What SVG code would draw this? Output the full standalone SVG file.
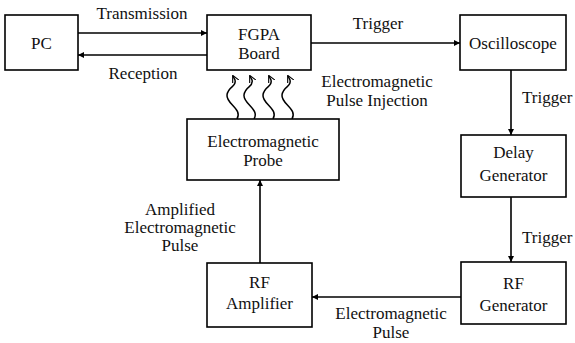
<svg xmlns="http://www.w3.org/2000/svg" width="575" height="343" viewBox="0 0 575 343" font-family="Liberation Serif, serif">
<style>
.box{fill:#fff;stroke:#000;stroke-width:1.6}
text{font-family:"Liberation Serif",serif;font-size:17px;fill:#111}
.t{text-anchor:middle}
.tl{text-anchor:start}
.c{stroke:#000;stroke-width:1.6;fill:none;marker-end:url(#ah)}
</style>
<defs>
<marker id="ah" viewBox="0 0 10 10" refX="10" refY="5" markerWidth="6" markerHeight="6" markerUnits="userSpaceOnUse" orient="auto">
<path d="M0,0 L10,5 L0,10 z" fill="#000"/>
</marker>
<marker id="ah2" viewBox="0 0 10 10" refX="9" refY="5" markerWidth="7" markerHeight="7" markerUnits="userSpaceOnUse" orient="auto">
<path d="M0,0 L10,5 L0,10" fill="none" stroke="#000" stroke-width="1.6"/>
</marker>
</defs>
<g id="connectors">
<line class="c" x1="78" y1="33" x2="207" y2="33"/>
<line class="c" x1="207" y1="55" x2="78" y2="55"/>
<line class="c" x1="311" y1="43" x2="460" y2="43"/>
<line class="c" x1="511" y1="70" x2="511" y2="135"/>
<line class="c" x1="511" y1="197" x2="511" y2="262"/>
<line class="c" x1="461" y1="297" x2="312" y2="297"/>
<line class="c" x1="260" y1="263" x2="260" y2="180"/>
<g id="waves" fill="none" stroke="#000" stroke-width="1.5" marker-end="url(#ah2)">
<path d="M237,119 C243,109 226,104 227,95 C228,86 237,87 235,80 L233,76"/>
<path d="M254,119 C260,109 243,104 244,95 C245,86 254,87 252,80 L250,76"/>
<path d="M273,119 C279,109 262,104 263,95 C264,86 273,87 271,80 L269,76"/>
<path d="M292,119 C298,109 281,104 282,95 C283,86 292,87 290,80 L288,76"/>
</g>
<text class="t" x="142" y="19">Transmission</text>
<text class="t" x="143" y="79">Reception</text>
<text class="t" x="378" y="29">Trigger</text>
<text class="t" x="377" y="87">Electromagnetic</text>
<text class="t" x="377" y="106">Pulse Injection</text>
<text class="tl" x="522" y="103">Trigger</text>
<text class="tl" x="522" y="243">Trigger</text>
<text class="t" x="180" y="215">Amplified</text>
<text class="t" x="180" y="233">Electromagnetic</text>
<text class="t" x="180" y="251">Pulse</text>
<text class="t" x="391" y="319">Electromagnetic</text>
<text class="t" x="391" y="338">Pulse</text>
</g>
<g id="pc">
<rect class="box" x="5" y="15" width="73" height="55"/>
<text class="t" x="41.5" y="49">PC</text>
</g>
<g id="fpga">
<rect class="box" x="207" y="15" width="104" height="55"/>
<text class="t" x="259" y="40">FGPA</text>
<text class="t" x="259" y="59">Board</text>
</g>
<g id="oscilloscope">
<rect class="box" x="460" y="15" width="106" height="55"/>
<text class="t" x="513" y="49">Oscilloscope</text>
</g>
<g id="delay">
<rect class="box" x="461" y="135" width="105" height="62"/>
<text class="t" x="513.5" y="158">Delay</text>
<text class="t" x="513.5" y="181">Generator</text>
</g>
<g id="rfgen">
<rect class="box" x="461" y="262" width="105" height="62"/>
<text class="t" x="513.5" y="289">RF</text>
<text class="t" x="513.5" y="311">Generator</text>
</g>
<g id="rfamp">
<rect class="box" x="207" y="263" width="105" height="64"/>
<text class="t" x="259.5" y="288">RF</text>
<text class="t" x="259.5" y="309">Amplifier</text>
</g>
<g id="probe">
<rect class="box" x="187" y="119" width="152" height="61"/>
<text class="t" x="263" y="147">Electromagnetic</text>
<text class="t" x="263" y="166">Probe</text>
</g>
</svg>
